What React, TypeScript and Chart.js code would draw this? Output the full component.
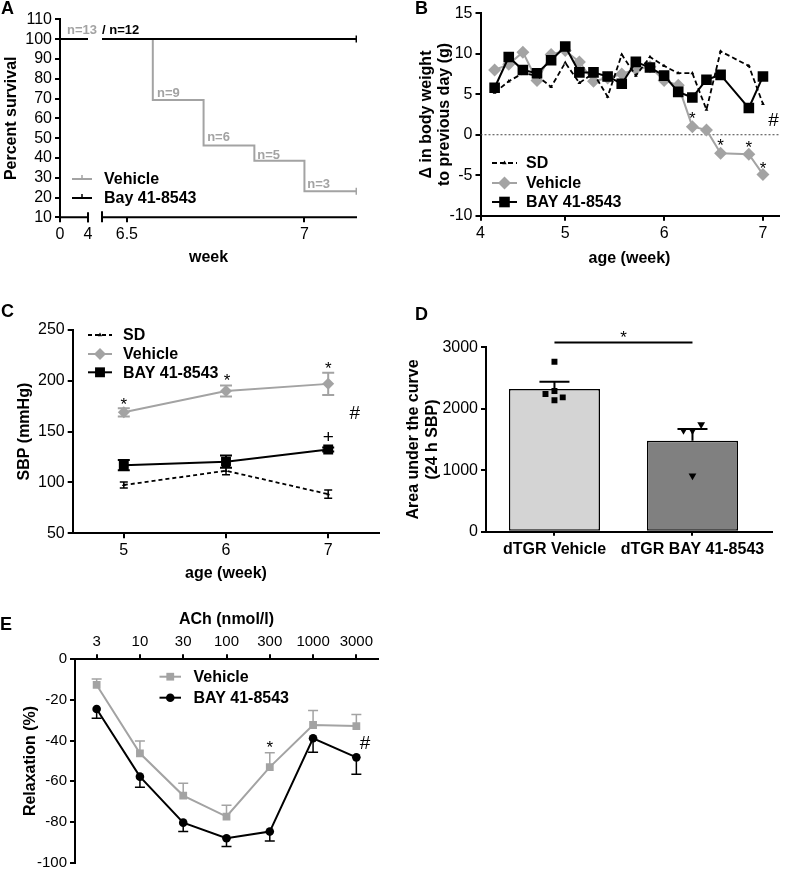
import React, { useEffect, useRef } from "react";
import { Chart, registerables } from "chart.js";

Chart.register(...registerables);

const FONT = "'Liberation Sans', Arial, Helvetica, sans-serif";
const BLACK = "#000000";
const GRAY = "#a3a3a3";

/* ---------------- Panel A : survival ---------------- */
const A_VEHICLE_WEEKS = [0, 4, 6.43, 6.573, 6.716, 6.859, 7.0, 7.146];
const A_VEHICLE_SURVIVAL = [100, 100, 100, 69.2, 46.2, 38.5, 23.1, 23.1];
const A_BAY_WEEKS = [0, 4, 6.43, 7.146];
const A_BAY_SURVIVAL = [100, 100, 100, 100];
const A_TICK_WEEKS = [0, 4, 6.5, 7];
const A_TICK_LABELS = ["0", "4", "6.5", "7"];
const A_N_TEXT = ["n=13", "/ n=12", "n=9", "n=6", "n=5", "n=3"];
const A_N_WEEK = [1.0, 6.43, 6.585, 6.726, 6.867, 7.008];
const A_N_VALUE = [104.3, 104.3, 72.8, 50.1, 41.5, 26.8];
const A_N_IS_VEHICLE = [true, false, true, true, true, true];

/* ---------------- Panel B : body weight change ---------------- */
const B_DAYS = [30, 31, 32, 33, 34, 35, 36, 37, 38, 39, 40, 41, 42, 43, 44, 45, 46, 47, 48, 49];
const B_TICK_DAYS = [29, 35, 42, 49];
const B_TICK_LABELS = ["4", "5", "6", "7"];
const B_SD = [5.2, 6.6, 7.6, 7.3, 5.9, 8.9, 6.4, 7.6, 4.7, 9.9, 7.3, 9.6, 8.5, 7.6, 7.6, 3.1, 10.3, null, 8.5, 3.8];
const B_VEHICLE = [8.0, 8.7, 10.2, 6.7, 9.9, 10.4, 9.0, 6.6, 7.0, 7.5, 8.1, 8.4, 6.7, 6.1, 1.0, 0.6, -2.3, null, -2.4, -4.9];
const B_BAY = [5.8, 9.6, 8.0, 7.6, 9.2, 10.9, 7.7, 7.7, 7.2, 6.3, 9.0, 8.3, 7.3, 5.3, 4.6, 6.8, 7.4, null, 3.3, 7.2];
const B_STAR_DAYS = [44, 46, 48, 49];
const B_STAR_VALUES = [2.5, -0.8, -1.1, -3.6];
const B_HASH = { day: 49.75, value: 1.9 };

/* ---------------- Panel C : SBP ---------------- */
const C_WEEKS = [5, 6, 7];
const C_SD = [97.5, 111.5, 88.5];
const C_SD_ERR = [3, 4, 4];
const C_VEHICLE = [169, 190, 197];
const C_VEHICLE_ERR = [4, 5.5, 11];
const C_BAY = [117, 120.5, 132.5];
const C_BAY_ERR = [5, 6, 2];
const C_STAR_WEEKS = [5, 6.01, 7];
const C_STAR_VALUES = [181, 204, 215.8];
const C_PLUS = { week: 7, value: 146 };
const C_HASH = { week: 7.26, value: 169.6 };

/* ---------------- Panel D : AUC ---------------- */
const D_GROUPS = ["dTGR Vehicle", "dTGR BAY 41-8543"];
const D_GROUP_X = [0, 1];
const D_MEANS = [2320, 1480];
const D_SEM = [120, 190];
const D_VEHICLE_POINTS = [2765, 2240, 2290, 2140, 2185];
const D_VEHICLE_JITTER = [0, -0.065, 0, 0, 0.06];
const D_BAY_POINTS = [1650, 1645, 1745, 910];
const D_BAY_JITTER = [-0.065, 0, 0.063, 0];
const D_SIG_VALUE = 3080;
const D_STAR_VALUE = 3226;

/* ---------------- Panel E : ACh relaxation ---------------- */
const E_DOSES = ["3", "10", "30", "100", "300", "1000", "3000"];
const E_VEHICLE = [-12.6, -46.2, -67, -77.3, -53, -32.3, -32.8];
const E_VEHICLE_ERR = [2.9, 6, 6, 5.6, 7.1, 7.1, 5.6];
const E_BAY = [-24.4, -57.7, -80.3, -88, -84.7, -38.8, -48.2];
const E_BAY_ERR = [4.6, 5.2, 4.4, 4, 4.6, 6.9, 8.3];
const E_STAR = { index: 4, value: -41.3 };
const E_HASH = { index: 6.2, value: -40.5 };

/* ---------------- helpers ---------------- */
type Box = { left: number; top: number; width: number; height: number };
type Area = { l: number; t: number; r: number; b: number };

function text(ctx: any, s: string, x: number, y: number, size: number, o: any = {}) {
  ctx.save();
  ctx.font = `${o.bold ? "bold " : ""}${size}px ${FONT}`;
  ctx.fillStyle = o.color || BLACK;
  ctx.textAlign = o.align || "left";
  ctx.textBaseline = o.baseline || "middle";
  ctx.fillText(s, x, y);
  ctx.restore();
}

function mark(ctx: any, s: string, x: number, yCenter: number, size: number, color = BLACK) {
  const lift = s === "*" ? 0.57 : 0.36;
  text(ctx, s, x, yCenter + lift * size, size, { color, align: "center", baseline: "alphabetic" });
}

function marker(ctx: any, style: string, x: number, y: number, r: number, color: string) {
  ctx.save();
  ctx.fillStyle = color;
  ctx.beginPath();
  if (style === "rect") {
    const h = r * Math.SQRT1_2;
    ctx.rect(x - h, y - h, 2 * h, 2 * h);
  } else if (style === "rectRot") {
    ctx.moveTo(x, y - r);
    ctx.lineTo(x + r, y);
    ctx.lineTo(x, y + r);
    ctx.lineTo(x - r, y);
    ctx.closePath();
  } else if (style === "triangle") {
    ctx.moveTo(x, y - r);
    ctx.lineTo(x + r * 0.866, y + r / 2);
    ctx.lineTo(x - r * 0.866, y + r / 2);
    ctx.closePath();
  } else {
    ctx.arc(x, y, r, 0, Math.PI * 2);
  }
  ctx.fill();
  ctx.restore();
}

type Leg = { label: string; color: string; dash?: number[]; point?: string; r?: number; tick?: boolean };
function legend(ctx: any, items: Leg[], x0: number, x1: number, xt: number, ys: number[], size = 16) {
  items.forEach((it, i) => {
    const y = ys[i];
    ctx.save();
    ctx.strokeStyle = it.color;
    ctx.lineWidth = 2;
    ctx.setLineDash(it.dash || []);
    ctx.beginPath();
    ctx.moveTo(x0, y);
    ctx.lineTo(x1, y);
    ctx.stroke();
    ctx.setLineDash([]);
    if (it.tick) {
      ctx.lineWidth = 1.5;
      ctx.beginPath();
      ctx.moveTo((x0 + x1) / 2, y);
      ctx.lineTo((x0 + x1) / 2, y - 4);
      ctx.stroke();
    }
    ctx.restore();
    if (it.point) marker(ctx, it.point, (x0 + x1) / 2, y, it.r || 4, it.color);
    text(ctx, it.label, xt, y + 1, size, { bold: true });
  });
}

function errorBars(chart: any, xs: number[], means: number[], errs: number[], o: any) {
  const ctx = chart.ctx;
  const xS = chart.scales.x;
  const yS = chart.scales.y;
  ctx.save();
  ctx.strokeStyle = o.color;
  ctx.lineWidth = o.width || 1.5;
  xs.forEach((xv, i) => {
    const x = xS.getPixelForValue(xv);
    const y0 = yS.getPixelForValue(means[i]);
    const yHi = yS.getPixelForValue(means[i] + errs[i]);
    const yLo = yS.getPixelForValue(means[i] - errs[i]);
    const c = o.cap / 2;
    ctx.beginPath();
    ctx.moveTo(x, o.up ? yHi : y0);
    ctx.lineTo(x, o.down ? yLo : y0);
    if (o.up) {
      ctx.moveTo(x - c, yHi);
      ctx.lineTo(x + c, yHi);
    }
    if (o.down) {
      ctx.moveTo(x - c, yLo);
      ctx.lineTo(x + c, yLo);
    }
    ctx.stroke();
  });
  ctx.restore();
}

const plainNumber = (v: any) => String(v);

function axisBase(size: number, bold = false, tickLength = 5) {
  return {
    border: { display: true, color: BLACK, width: 2 },
    grid: { display: true, drawOnChartArea: false, drawTicks: true, tickLength, color: BLACK, lineWidth: 2 },
    ticks: { color: BLACK, font: { family: FONT, size, weight: bold ? "bold" : "normal" }, padding: 3, autoSkip: false, maxRotation: 0, callback: plainNumber },
  };
}

function title(t: string | string[], pad: any, size = 16, lineHeight = 1.2) {
  return { display: true, text: t, color: BLACK, font: { family: FONT, size, weight: "bold", lineHeight }, padding: pad };
}

const yFit = (box: Box, area: Area) => (s: any) => {
  s.width = area.l - box.left;
  s.paddingTop = 0;
  s.paddingBottom = 0;
};
const xFitBottom = (box: Box, area: Area) => (s: any) => {
  s.height = box.top + box.height - area.b;
  s.paddingLeft = 0;
  s.paddingRight = 0;
};
const xFitTop = (box: Box, area: Area) => (s: any) => {
  s.height = area.t - box.top;
  s.paddingLeft = 0;
  s.paddingRight = 0;
};

const padBottomAxis = (box: Box, area: Area) => ({ left: 0, top: area.t - box.top, right: box.left + box.width - area.r, bottom: 0 });

const baseOptions = {
  responsive: false,
  animation: false as const,
  devicePixelRatio: 1,
};

/* ---------------- Panel A builder ---------------- */
const A_BOX: Box = { left: 0, top: 0, width: 390, height: 285 };
const A_AREA: Area = { l: 60, t: 19.3, r: 357, b: 217.3 };
const A_BREAK_START = 4;
const A_BREAK_END = 6.43;
const A_SEG1_LEN = 0.0789;
const A_GAP_LEN = 0.0394;
const aAxis = (w: number) => (w <= A_BREAK_START ? (w / A_BREAK_START) * A_SEG1_LEN : A_SEG1_LEN + A_GAP_LEN + (w - A_BREAK_END));
function brokenSeries(weeks: number[], values: number[]) {
  const out: any[] = [];
  weeks.forEach((w, i) => {
    if (i > 0 && weeks[i - 1] <= A_BREAK_START && w > A_BREAK_START) out.push({ x: A_SEG1_LEN + A_GAP_LEN / 2, y: null });
    out.push({ x: aAxis(w), y: values[i] });
  });
  return out;
}

function buildA(canvas: HTMLCanvasElement) {
  const box = A_BOX, area = A_AREA;
  const vehicleData = brokenSeries(A_VEHICLE_WEEKS, A_VEHICLE_SURVIVAL);
  const bayData = brokenSeries(A_BAY_WEEKS, A_BAY_SURVIVAL);
  const endRadius = (n: number) => (ctx: any) => (ctx.dataIndex === n - 1 ? 3.5 : 0);
  return new Chart(canvas, {
    type: "line",
    data: {
      datasets: [
        { label: "Bay 41-8543", data: bayData, borderColor: BLACK, backgroundColor: BLACK, borderWidth: 2, stepped: "before", pointStyle: "line", pointRotation: 90, pointRadius: endRadius(bayData.length), pointBorderWidth: 1.5, order: 0 },
        { label: "Vehicle", data: vehicleData, borderColor: GRAY, backgroundColor: GRAY, borderWidth: 2, stepped: "before", pointStyle: "line", pointRotation: 90, pointRadius: endRadius(vehicleData.length), pointBorderWidth: 1.5, order: 1 },
      ],
    } as any,
    options: {
      ...baseOptions,
      layout: { padding: padBottomAxis(box, area) },
      plugins: { legend: { display: false }, tooltip: { enabled: false } },
      scales: {
        x: {
          type: "linear",
          min: 0,
          max: aAxis(7.148),
          ...axisBase(16),
          border: { display: false },
          afterBuildTicks: (s: any) => { s.ticks = A_TICK_WEEKS.map((w) => ({ value: aAxis(w) })); },
          ticks: { ...axisBase(16).ticks, callback: (_v: any, i: number) => A_TICK_LABELS[i] },
          title: title("week", { top: 0, bottom: 18 }),
          afterFit: xFitBottom(box, area),
        },
        y: {
          type: "linear",
          min: 10,
          max: 110,
          ...axisBase(16),
          ticks: { ...axisBase(16).ticks, stepSize: 10 },
          title: title("Percent survival", { top: 2, bottom: 0 }),
          afterFit: yFit(box, area),
        },
      },
    } as any,
    plugins: [
      {
        id: "panelA",
        afterDraw(chart: any) {
          const ctx = chart.ctx;
          const xs = chart.scales.x, ys = chart.scales.y;
          const yb = chart.chartArea.bottom;
          ctx.save();
          ctx.strokeStyle = BLACK;
          ctx.lineWidth = 2;
          ctx.beginPath();
          ctx.moveTo(xs.getPixelForValue(aAxis(0)) - 1, yb);
          ctx.lineTo(xs.getPixelForValue(aAxis(A_BREAK_START)), yb);
          ctx.moveTo(xs.getPixelForValue(aAxis(A_BREAK_END)), yb);
          ctx.lineTo(chart.chartArea.right, yb);
          const b1 = xs.getPixelForValue(aAxis(A_BREAK_START));
          const b2 = xs.getPixelForValue(aAxis(A_BREAK_END));
          ctx.moveTo(b1, yb - 5);
          ctx.lineTo(b1, yb + 5);
          ctx.moveTo(b2, yb - 6);
          ctx.lineTo(b2, yb + 5);
          ctx.stroke();
          ctx.restore();
          A_N_TEXT.forEach((s, i) => {
            text(ctx, s, xs.getPixelForValue(aAxis(A_N_WEEK[i])), ys.getPixelForValue(A_N_VALUE[i]), 13, { bold: true, color: A_N_IS_VEHICLE[i] ? GRAY : BLACK });
          });
          legend(ctx, [
            { label: "Vehicle", color: GRAY, tick: true },
            { label: "Bay 41-8543", color: BLACK, tick: true },
          ], 72 - box.left, 92 - box.left, 104 - box.left, [179 - box.top, 198 - box.top]);
          text(ctx, "A", 1, 13.5, 18, { bold: true, baseline: "alphabetic" });
        },
      },
    ],
  });
}

/* ---------------- Panel B builder ---------------- */
const B_BOX: Box = { left: 390, top: 0, width: 396, height: 285 };
const B_AREA: Area = { l: 480.5, t: 13.3, r: 785, b: 215.7 };

function buildB(canvas: HTMLCanvasElement) {
  const box = B_BOX, area = B_AREA;
  const pts = (vals: (number | null)[]) => B_DAYS.map((d, i) => ({ x: d, y: vals[i] }));
  return new Chart(canvas, {
    type: "line",
    data: {
      datasets: [
        { label: "BAY 41-8543", data: pts(B_BAY), borderColor: BLACK, backgroundColor: BLACK, borderWidth: 2, pointStyle: "rect", pointRadius: 7.5, pointBorderWidth: 0, spanGaps: true, order: 0 },
        { label: "SD", data: pts(B_SD), borderColor: BLACK, backgroundColor: BLACK, borderWidth: 1.8, borderDash: [5, 3], pointStyle: "triangle", pointRadius: 2.2, pointBorderWidth: 0, spanGaps: true, order: 1 },
        { label: "Vehicle", data: pts(B_VEHICLE), borderColor: GRAY, backgroundColor: GRAY, borderWidth: 2, pointStyle: "rectRot", pointRadius: 6.5, pointBorderWidth: 0, spanGaps: true, order: 2 },
      ],
    } as any,
    options: {
      ...baseOptions,
      layout: { padding: padBottomAxis(box, area) },
      plugins: { legend: { display: false }, tooltip: { enabled: false } },
      scales: {
        x: {
          type: "linear",
          min: 29,
          max: 50.1,
          ...axisBase(16),
          afterBuildTicks: (s: any) => { s.ticks = B_TICK_DAYS.map((d) => ({ value: d })); },
          ticks: { ...axisBase(16).ticks, callback: (_v: any, i: number) => B_TICK_LABELS[i] },
          title: title("age (week)", { top: 0, bottom: 17 }),
          afterFit: xFitBottom(box, area),
        },
        y: {
          type: "linear",
          min: -10,
          max: 15,
          ...axisBase(16),
          ticks: { ...axisBase(16).ticks, stepSize: 5 },
          title: title(["\u0394 in body weight", "to previous day (g)"], { top: 27, bottom: 0 }, 16, 1.15),
          afterFit: yFit(box, area),
        },
      },
    } as any,
    plugins: [
      {
        id: "panelB",
        beforeDatasetsDraw(chart: any) {
          const ctx = chart.ctx;
          const y0 = chart.scales.y.getPixelForValue(0);
          ctx.save();
          ctx.strokeStyle = "#444";
          ctx.lineWidth = 1;
          ctx.setLineDash([2, 2]);
          ctx.beginPath();
          ctx.moveTo(chart.chartArea.left, y0);
          ctx.lineTo(chart.chartArea.right, y0);
          ctx.stroke();
          ctx.restore();
        },
        afterDraw(chart: any) {
          const ctx = chart.ctx;
          const xs = chart.scales.x, ys = chart.scales.y;
          B_STAR_DAYS.forEach((d, i) => mark(ctx, "*", xs.getPixelForValue(d), ys.getPixelForValue(B_STAR_VALUES[i]), 17));
          mark(ctx, "#", xs.getPixelForValue(B_HASH.day), ys.getPixelForValue(B_HASH.value), 19);
          legend(ctx, [
            { label: "SD", color: BLACK, dash: [5, 3], point: "triangle", r: 2.5 },
            { label: "Vehicle", color: GRAY, point: "rectRot", r: 6.5 },
            { label: "BAY 41-8543", color: BLACK, point: "rect", r: 7.5 },
          ], 492 - box.left, 517 - box.left, 526 - box.left, [163, 183, 202].map((y) => y - box.top));
          text(ctx, "B", 415 - box.left, 13.5, 18, { bold: true, baseline: "alphabetic" });
        },
      },
    ],
  });
}

/* ---------------- Panel C builder ---------------- */
const C_BOX: Box = { left: 0, top: 285, width: 390, height: 300 };
const C_AREA: Area = { l: 72.7, t: 330, r: 379.3, b: 533.3 };

function buildC(canvas: HTMLCanvasElement) {
  const box = C_BOX, area = C_AREA;
  const pts = (vals: number[]) => C_WEEKS.map((w, i) => ({ x: w, y: vals[i] }));
  return new Chart(canvas, {
    type: "line",
    data: {
      datasets: [
        { label: "BAY 41-8543", data: pts(C_BAY), borderColor: BLACK, backgroundColor: BLACK, borderWidth: 2, pointStyle: "rect", pointRadius: 7, pointBorderWidth: 0, order: 0 },
        { label: "SD", data: pts(C_SD), borderColor: BLACK, backgroundColor: BLACK, borderWidth: 1.8, borderDash: [4, 3], pointStyle: "triangle", pointRadius: 2.2, pointBorderWidth: 0, order: 1 },
        { label: "Vehicle", data: pts(C_VEHICLE), borderColor: GRAY, backgroundColor: GRAY, borderWidth: 2, pointStyle: "rectRot", pointRadius: 6, pointBorderWidth: 0, order: 2 },
      ],
    } as any,
    options: {
      ...baseOptions,
      layout: { padding: padBottomAxis(box, area) },
      plugins: { legend: { display: false }, tooltip: { enabled: false } },
      scales: {
        x: {
          type: "linear",
          min: 4.5,
          max: 7.5,
          ...axisBase(16),
          afterBuildTicks: (s: any) => { s.ticks = C_WEEKS.map((w) => ({ value: w })); },
          title: title("age (week)", { top: 0, bottom: 2 }),
          afterFit: xFitBottom(box, area),
        },
        y: {
          type: "linear",
          min: 50,
          max: 250,
          ...axisBase(16),
          ticks: { ...axisBase(16).ticks, stepSize: 50 },
          title: title("SBP (mmHg)", { top: 15, bottom: 0 }),
          afterFit: yFit(box, area),
        },
      },
    } as any,
    plugins: [
      {
        id: "panelC",
        beforeDatasetsDraw(chart: any) {
          errorBars(chart, C_WEEKS, C_VEHICLE, C_VEHICLE_ERR, { up: true, down: true, cap: 12, color: GRAY, width: 2 });
          errorBars(chart, C_WEEKS, C_BAY, C_BAY_ERR, { up: true, down: true, cap: 12, color: BLACK, width: 2 });
          errorBars(chart, C_WEEKS, C_SD, C_SD_ERR, { up: true, down: true, cap: 8, color: BLACK, width: 1.5 });
        },
        afterDraw(chart: any) {
          const ctx = chart.ctx;
          const xs = chart.scales.x, ys = chart.scales.y;
          C_STAR_WEEKS.forEach((w, i) => mark(ctx, "*", xs.getPixelForValue(w), ys.getPixelForValue(C_STAR_VALUES[i]), 17));
          mark(ctx, "+", xs.getPixelForValue(C_PLUS.week), ys.getPixelForValue(C_PLUS.value), 19);
          mark(ctx, "#", xs.getPixelForValue(C_HASH.week), ys.getPixelForValue(C_HASH.value), 19);
          legend(ctx, [
            { label: "SD", color: BLACK, dash: [4, 3], point: "triangle", r: 2.5 },
            { label: "Vehicle", color: GRAY, point: "rectRot", r: 6 },
            { label: "BAY 41-8543", color: BLACK, point: "rect", r: 7 },
          ], 88 - box.left, 112 - box.left, 123 - box.left, [335, 354, 372.3].map((y) => y - box.top));
          text(ctx, "C", 1, 316.7 - box.top, 18, { bold: true, baseline: "alphabetic" });
        },
      },
    ],
  });
}

/* ---------------- Panel D builder ---------------- */
const D_BOX: Box = { left: 390, top: 285, width: 396, height: 295 };
const D_AREA: Area = { l: 486, t: 347.3, r: 771.7, b: 531.7 };

function buildD(canvas: HTMLCanvasElement) {
  const box = D_BOX, area = D_AREA;
  return new Chart(canvas, {
    type: "bar",
    data: {
      datasets: [
        { type: "scatter", label: "Vehicle points", data: D_VEHICLE_POINTS.map((v, i) => ({ x: D_GROUP_X[0] + D_VEHICLE_JITTER[i], y: v })), pointStyle: "rect", pointRadius: 4.2, backgroundColor: BLACK, borderColor: BLACK, pointBorderWidth: 0, order: 0 },
        { type: "scatter", label: "BAY points", data: D_BAY_POINTS.map((v, i) => ({ x: D_GROUP_X[1] + D_BAY_JITTER[i], y: v })), pointStyle: "triangle", rotation: 180, pointRadius: 4.5, backgroundColor: BLACK, borderColor: BLACK, pointBorderWidth: 0, order: 1 },
        { type: "bar", label: "Mean", data: D_MEANS.map((m, i) => ({ x: D_GROUP_X[i], y: m })), backgroundColor: ["#d4d4d4", "#808080"], borderColor: BLACK, borderWidth: 1.5, borderSkipped: false, barPercentage: 0.66, categoryPercentage: 1, order: 2 },
      ],
    } as any,
    options: {
      ...baseOptions,
      layout: { padding: padBottomAxis(box, area) },
      plugins: { legend: { display: false }, tooltip: { enabled: false } },
      scales: {
        x: {
          type: "linear",
          min: -0.496,
          max: 1.574,
          offset: false,
          ...axisBase(16, true, 4),
          grid: { ...axisBase(16, true, 4).grid, offset: false },
          afterBuildTicks: (s: any) => { s.ticks = D_GROUP_X.map((v) => ({ value: v })); },
          ticks: { ...axisBase(16, true).ticks, padding: 4, callback: (_v: any, i: number) => D_GROUPS[i] },
          afterFit: xFitBottom(box, area),
        },
        y: {
          type: "linear",
          min: 0,
          max: 3000,
          ...axisBase(16),
          ticks: { ...axisBase(16).ticks, stepSize: 1000 },
          title: title(["Area under the curve", "(24 h SBP)"], { top: 13.7, bottom: 0 }),
          afterFit: yFit(box, area),
        },
      },
    } as any,
    plugins: [
      {
        id: "panelD",
        afterDatasetsDraw(chart: any) {
          errorBars(chart, D_GROUP_X, D_MEANS, D_SEM, { up: true, down: false, cap: 30, color: BLACK, width: 2 });
        },
        afterDraw(chart: any) {
          const ctx = chart.ctx;
          const xs = chart.scales.x, ys = chart.scales.y;
          const yl = ys.getPixelForValue(D_SIG_VALUE);
          ctx.save();
          ctx.strokeStyle = BLACK;
          ctx.lineWidth = 2;
          ctx.beginPath();
          ctx.moveTo(xs.getPixelForValue(D_GROUP_X[0]), yl);
          ctx.lineTo(xs.getPixelForValue(D_GROUP_X[1]), yl);
          ctx.stroke();
          ctx.restore();
          mark(ctx, "*", xs.getPixelForValue((D_GROUP_X[0] + D_GROUP_X[1]) / 2), ys.getPixelForValue(D_STAR_VALUE), 17);
          text(ctx, "D", 415 - box.left, 320 - box.top, 18, { bold: true, baseline: "alphabetic" });
        },
      },
    ],
  });
}

/* ---------------- Panel E builder ---------------- */
const E_BOX: Box = { left: 0, top: 590, width: 560, height: 279 };
const E_AREA: Area = { l: 75, t: 659.3, r: 378, b: 862.7 };

function buildE(canvas: HTMLCanvasElement) {
  const box = E_BOX, area = E_AREA;
  const idx = E_DOSES.map((_d, i) => i);
  const pts = (vals: number[]) => idx.map((i) => ({ x: i, y: vals[i] }));
  return new Chart(canvas, {
    type: "line",
    data: {
      datasets: [
        { label: "BAY 41-8543", data: pts(E_BAY), borderColor: BLACK, backgroundColor: BLACK, borderWidth: 2, pointStyle: "circle", pointRadius: 4.3, pointBorderWidth: 0, order: 0 },
        { label: "Vehicle", data: pts(E_VEHICLE), borderColor: GRAY, backgroundColor: GRAY, borderWidth: 2, pointStyle: "rect", pointRadius: 5.5, pointBorderWidth: 0, order: 1 },
      ],
    } as any,
    options: {
      ...baseOptions,
      layout: { padding: { left: 0, top: 0, right: box.left + box.width - area.r, bottom: box.top + box.height - area.b } },
      plugins: { legend: { display: false }, tooltip: { enabled: false } },
      scales: {
        x: {
          type: "linear",
          position: "top",
          min: -0.5,
          max: 6.5,
          ...axisBase(15),
          afterBuildTicks: (s: any) => { s.ticks = idx.map((i) => ({ value: i })); },
          ticks: { ...axisBase(15).ticks, callback: (_v: any, i: number) => E_DOSES[i] },
          title: title("ACh (nmol/l)", { top: 19.7, bottom: 0 }),
          afterFit: xFitTop(box, area),
        },
        y: {
          type: "linear",
          min: -100,
          max: 0,
          ...axisBase(15),
          ticks: { ...axisBase(15).ticks, stepSize: 20 },
          title: title("Relaxation (%)", { top: 21, bottom: 0 }),
          afterFit: yFit(box, area),
        },
      },
    } as any,
    plugins: [
      {
        id: "panelE",
        beforeDatasetsDraw(chart: any) {
          errorBars(chart, idx, E_VEHICLE, E_VEHICLE_ERR, { up: true, down: false, cap: 10, color: GRAY, width: 1.5 });
          errorBars(chart, idx, E_BAY, E_BAY_ERR, { up: false, down: true, cap: 10, color: BLACK, width: 1.5 });
        },
        afterDraw(chart: any) {
          const ctx = chart.ctx;
          const xs = chart.scales.x, ys = chart.scales.y;
          mark(ctx, "*", xs.getPixelForValue(E_STAR.index), ys.getPixelForValue(E_STAR.value), 17);
          mark(ctx, "#", xs.getPixelForValue(E_HASH.index), ys.getPixelForValue(E_HASH.value), 19);
          legend(ctx, [
            { label: "Vehicle", color: GRAY, point: "rect", r: 5.5 },
            { label: "BAY 41-8543", color: BLACK, point: "circle", r: 4.3 },
          ], 159.5 - box.left, 181 - box.left, 193.5 - box.left, [676.7, 697.7].map((y) => y - box.top));
          text(ctx, "E", 0, 630 - box.top, 18, { bold: true, baseline: "alphabetic" });
        },
      },
    ],
  });
}

/* ---------------- React ---------------- */
function ChartPanel({ box, build }: { box: Box; build: (c: HTMLCanvasElement) => Chart }) {
  const ref = useRef<HTMLCanvasElement>(null);
  useEffect(() => {
    if (!ref.current) return;
    const chart = build(ref.current);
    return () => chart.destroy();
  }, []);
  return (
    <canvas
      ref={ref}
      width={box.width}
      height={box.height}
      style={{ position: "absolute", left: box.left, top: box.top, width: box.width, height: box.height }}
    />
  );
}

export default function App() {
  return (
    <div style={{ position: "absolute", left: 0, top: 0, width: 786, height: 869, background: "#ffffff", overflow: "hidden" }}>
      <ChartPanel box={A_BOX} build={buildA} />
      <ChartPanel box={B_BOX} build={buildB} />
      <ChartPanel box={C_BOX} build={buildC} />
      <ChartPanel box={D_BOX} build={buildD} />
      <ChartPanel box={E_BOX} build={buildE} />
    </div>
  );
}
